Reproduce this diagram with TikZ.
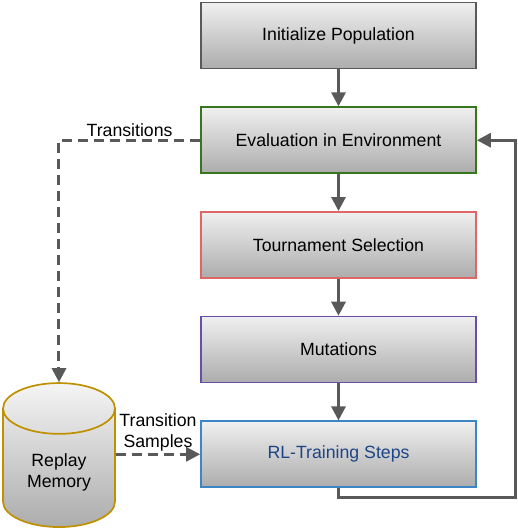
\documentclass[tikz,border=0pt]{standalone}
\usepackage{fontspec}
\setmainfont{Liberation Sans}
\usetikzlibrary{positioning,shapes.geometric,arrows.meta}
\definecolor{edge}{RGB}{89,89,89}
\definecolor{evalgreen}{RGB}{56,118,29}
\definecolor{selred}{RGB}{224,102,102}
\definecolor{mutpurple}{RGB}{103,78,167}
\definecolor{rlblue}{RGB}{61,133,198}
\definecolor{rltext}{RGB}{28,69,135}
\definecolor{memgold}{RGB}{191,144,0}

\tikzset{
  stage/.style={draw=#1, line width=1.7pt, top color=gray!12, bottom color=gray!65,
                minimum width=275pt, minimum height=66pt,
                font=\fontsize{17.7}{21}\selectfont},
  flow/.style={draw=edge, line width=3pt, -{Triangle[length=14pt,width=14pt]}},
  sample/.style={flow, dash pattern=on 10pt off 6pt},
  lbl/.style={font=\fontsize{17.7}{21}\selectfont, inner sep=2pt, align=center}
}

\begin{document}
\begin{tikzpicture}[x=1pt,y=1pt, node distance=37pt]
  \useasboundingbox (0,0) rectangle (518,530);

  % evolution loop
  \node[stage=edge] (init) at (338.5,494.5) {Initialize Population};
  \node[stage=evalgreen, below=of init] (eval) {Evaluation in Environment};
  \node[stage=selred, below=of eval] (select) {Tournament Selection};
  \node[stage=mutpurple, below=of select] (mutate) {Mutations};
  \node[stage=rlblue, text=rltext, below=of mutate] (rl) {RL-Training Steps};

  % replay memory
  \node[cylinder, shape border rotate=90, draw=memgold, line width=1.7pt,
        top color=gray!8, bottom color=gray!65, aspect=0.72,
        minimum width=112pt, minimum height=144pt,
        font=\fontsize{17.7}{21}\selectfont, align=center] (memory) at (59,57.5) {Replay\\Memory};

  \coordinate (loop) at (515,32);

  \draw[flow] (init) -- (eval);
  \draw[flow] (eval) -- (select);
  \draw[flow] (select) -- (mutate);
  \draw[flow] (mutate) -- (rl);
  \draw[flow] (rl.south) |- (loop) |- (eval.east);

  \draw[sample] (eval.west) -| node[lbl, pos=0.25, above] {Transitions} (memory.north);
  \draw[sample] (memory.east |- rl.west) -- node[lbl, above] {Transition\\Samples} (rl.west);
\end{tikzpicture}
\end{document}
